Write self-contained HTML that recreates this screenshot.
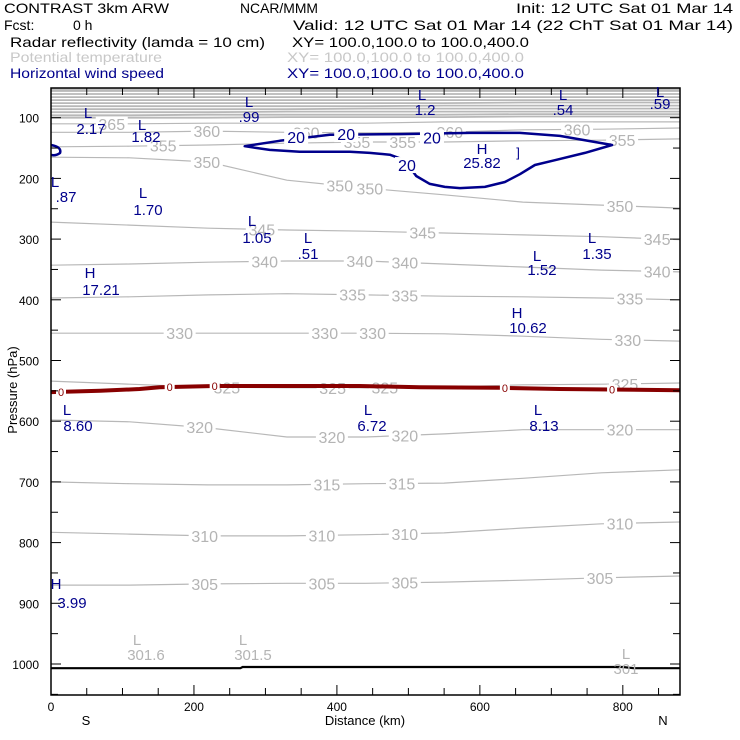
<!DOCTYPE html>
<html><head><meta charset="utf-8"><style>
html,body{margin:0;padding:0;background:#fff;}
svg{display:block;font-family:"Liberation Sans",sans-serif;}
</style></head><body>
<svg id="chart" width="740" height="740" viewBox="0 0 740 740" xmlns="http://www.w3.org/2000/svg">
<g font-size="14">
<text x="4" y="13" textLength="165" lengthAdjust="spacingAndGlyphs">CONTRAST  3km ARW</text>
<text x="240" y="13" textLength="78" lengthAdjust="spacingAndGlyphs">NCAR/MMM</text>
<text x="516" y="13" textLength="217" lengthAdjust="spacingAndGlyphs">Init: 12 UTC Sat 01 Mar 14</text>
<text x="4" y="30">Fcst:</text>
<text x="73" y="30">0 h</text>
<text x="293" y="30" textLength="440" lengthAdjust="spacingAndGlyphs">Valid: 12 UTC Sat 01 Mar 14 (22 ChT Sat 01 Mar 14)</text>
<text x="10" y="47" textLength="255" lengthAdjust="spacingAndGlyphs">Radar reflectivity (lamda = 10 cm)</text>
<text x="292" y="47" textLength="237" lengthAdjust="spacingAndGlyphs">XY= 100.0,100.0 to 100.0,400.0</text>
<text x="10" y="62" fill="#c8c8c8" textLength="152" lengthAdjust="spacingAndGlyphs">Potential temperature</text>
<text x="287" y="62" fill="#c8c8c8" textLength="237" lengthAdjust="spacingAndGlyphs">XY= 100.0,100.0 to 100.0,400.0</text>
<text x="10" y="78" fill="#00008c" textLength="154" lengthAdjust="spacingAndGlyphs">Horizontal wind speed</text>
<text x="287" y="78" fill="#00008c" textLength="237" lengthAdjust="spacingAndGlyphs">XY= 100.0,100.0 to 100.0,400.0</text>
</g>
<defs><clipPath id="plotclip"><rect x="51" y="88" width="629" height="607"/></clipPath></defs>
<g id="plot" clip-path="url(#plotclip)"></g>
<g id="overlay"></g>
<g id="axes"></g>
</svg>
<script>
// ---- data ----
const distKm = [0,110,220,330,440,550,660,770,880];
const thetaLevels = [305,310,315,320,325,330,335,340,345,350,355,360,365,370,375,380,385,390,395,400,405,410,415];
const thetaP = [
 [870,870,868,867,867,865,862,858,855],
 [783,786,789,789,787,784,776,769,766],
 [700,703,705,705,703,702,694,685,680],
 [598,601,611,626,626,621,614,614,614],
 [534,539,544,545,545,544,540,539,537],
 [455,455,455,455,455,456,460,465,468],
 [397,395,392,390,392,394,395,397,400],
 [343,341,338,336,336,341,346,351,354],
 [272,277,282,285,287,290,293,296,301],
 [165,166,173,203,216,227,239,244,249],
 [148,147,145,142,140,140,138,137,135],
 [124,124,122,124,125,124,120,119,117],
 [110,110,109,109,109,107,107,107,107],
 [100,100,100,99,99,99,98,98,98],
 [96,96,95,95,95,95,94,94,94],
 [91,91,91,90,90,90,90,90,90],
 [86,86,86,86,85,85,85,85,85],
 [81,81,81,81,81,80,80,80,80],
 [76,76,76,76,76,76,75,75,75],
 [71,71,71,71,71,71,71,71,71],
 [66,66,66,66,66,66,66,66,66],
 [61,61,61,61,61,61,61,61,61],
 [56,56,56,56,56,56,56,56,56]
];
const thetaLabelLevels = [365,360,360,360,360,355,355,355,355,350,350,350,350,345,345,345,340,340,340,340,335,335,335,330,330,330,330,325,325,325,325,320,320,320,320,315,315,310,310,310,310,305,305,305,305];
const thetaLabelKm =     [85,218,357,558,736,157,428,492,799,218,404,446,796,295,520,848,299,432,495,848,422,495,810,180,383,450,807,246,394,467,803,208,393,495,796,386,491,215,379,495,796,215,379,495,768];
const windKm = [271,320,390,488,586,656,712,785,747,705,677,656,635,607,572,551,530,511,495,474,446,418,348,306];
const windP  = [147,138,128,127,125,125,130,145,158,170,178,193,206,214,216,214,209,196,170,161,158,156,156,153];
const windLabelKm = [343,413,533,498];
const windLabelP = [132,127,133,178];
const reflKm = [0,69,124,152,229,432,516,628,712,880];
const reflP  = [552,550,547,544,542,542,544,545,547,549];
const reflLabelKm = [14,166,229,635,785];
const surfKm = [0,265,268,800,815,880];
const surfP = [1007,1007,1005,1005,1007,1007];
const xTicks = [0,200,400,600,800];
const yTicks = [100,200,300,400,500,600,700,800,900,1000];

// ---- scales ----
const X = km => 51 + km * 629/880;
const Y = p => 57 + p * 0.607;
const NS = "http://www.w3.org/2000/svg";
function mk(tag, parent, attrs){const e=document.createElementNS(NS,tag);for(const k in attrs)e.setAttribute(k,attrs[k]);parent.appendChild(e);return e;}
function interp(xs, ys, x){for(let i=0;i<xs.length-1;i++){if(x>=xs[i]&&x<=xs[i+1]){const t=(x-xs[i])/(xs[i+1]-xs[i]);return ys[i]+t*(ys[i+1]-ys[i]);}}return ys[ys.length-1];}
const plot = document.getElementById('plot');
const axes = document.getElementById('axes');

const band = mk('rect', plot, {x:51,y:88,width:629,height:Y(56)-88,fill:'#c0c0c0'});



thetaLevels.forEach((lv,i)=>{
  const d = distKm.map((k,j)=>(j?'L':'M')+X(k).toFixed(1)+' '+Y(thetaP[i][j]).toFixed(1)).join(' ');
  const pth = mk('path', plot, {d:d, fill:'none', stroke:'#b8b8b8','stroke-width':lv>=370?1.8:1.2});
  
  
});
thetaLabelLevels.forEach((lv,i)=>{
  const li = thetaLevels.indexOf(lv);
  const km = thetaLabelKm[i];
  const y = Y(interp(distKm, thetaP[li], km));
  const x = X(km);
  const r = mk('rect', plot, {x:x-16,y:y-7,width:32,height:14,fill:'#fff'});
  
  
  const t = mk('text', plot, {x:x,y:y+6,'text-anchor':'middle','font-size':16,fill:'#b4b4b4'});
  t.textContent = lv;
  
  
});

const rd = reflKm.map((k,j)=>(j?'L':'M')+X(k).toFixed(1)+' '+Y(reflP[j]).toFixed(1)).join(' ');
const rp = mk('path', plot, {d:rd, fill:'none', stroke:'#880000','stroke-width':4});


reflLabelKm.forEach(km=>{
  const x=X(km), y=Y(interp(reflKm,reflP,km));
  const r = mk('rect', plot, {x:x-5,y:y-5,width:10,height:10,fill:'#fff'});
  
  
  const t = mk('text', plot, {x:x,y:y+4,'text-anchor':'middle','font-size':11,fill:'#880000'});
  t.textContent='0';
  
  
});

const sd = surfKm.map((k,j)=>(j?'L':'M')+X(k).toFixed(1)+' '+Y(surfP[j]).toFixed(1)).join(' ');
const sp = mk('path', plot, {d:sd, fill:'none', stroke:'#000','stroke-width':2.2});



const wd = windKm.map((k,j)=>(j?'L':'M')+X(k).toFixed(1)+' '+Y(windP[j]).toFixed(1)).join(' ')+' Z';
const wp = mk('path', plot, {d:wd, fill:'none', stroke:'#00008c','stroke-width':2.5,'stroke-linejoin':'round'});


const blob = mk('path', plot, {d:'M51 145 Q62 147 60 153 Q56 156 51 155', fill:'none', stroke:'#00008c','stroke-width':2.5});


windLabelKm.forEach((km,i)=>{
  const x=X(km), y=Y(windLabelP[i]);
  const r = mk('rect', plot, {x:x-12,y:y-8,width:24,height:16,fill:'#fff'});
  
  
  const t = mk('text', plot, {x:x,y:y+6,'text-anchor':'middle','font-size':16,fill:'#00008c'});
  t.textContent='20';
  
  
});

const frame = mk('rect', axes, {x:51,y:88,width:629,height:607,fill:'none',stroke:'#000','stroke-width':1.5});


for(let km=0;km<=880;km+=50){
  const major = km%200===0, len = major?10:7;
  const t1 = mk('line', axes, {x1:X(km),x2:X(km),y1:695,y2:695-len,stroke:'#000'});
  
  
  const t2 = mk('line', axes, {x1:X(km),x2:X(km),y1:88,y2:88+len,stroke:'#000'});
  
  
}
xTicks.forEach(v=>{
  const t = mk('text', axes, {x:X(v),y:711,'text-anchor':'middle','font-size':12});
  t.textContent=v;
  
  
});
for(let p=100;p<=1050;p+=50){
  const major = p%100===0, len = major?10:7;
  const a = mk('line', axes, {x1:51,x2:51+len,y1:Y(p),y2:Y(p),stroke:'#000'});
  
  
  const b = mk('line', axes, {x1:680,x2:680-len,y1:Y(p),y2:Y(p),stroke:'#000'});
  
  
}
yTicks.forEach(v=>{
  const t = mk('text', axes, {x:39,y:Y(v)+5,'text-anchor':'end','font-size':12});
  t.textContent=v;
  
  
});
</script>
<svg style="position:absolute;left:0;top:0" width="740" height="740" font-family="Liberation Sans, sans-serif">
<text x="365" y="725" text-anchor="middle" font-size="13">Distance (km)</text>
<text x="86" y="725" text-anchor="middle" font-size="13">S</text>
<text x="663" y="725" text-anchor="middle" font-size="13">N</text>
<text transform="translate(17,390) rotate(-90)" text-anchor="middle" font-size="13">Pressure (hPa)</text>
<g fill="#00008c" font-size="15" text-anchor="middle">
<text x="88" y="118">L</text><text x="91" y="134">2.17</text>
<text x="142" y="130">L</text><text x="146" y="142">1.82</text>
<text x="249" y="107">L</text><text x="249" y="122">.99</text>
<text x="422" y="100">L</text><text x="425" y="115">1.2</text>
<text x="563" y="100">L</text><text x="563" y="115">.54</text>
<text x="660" y="97">L</text><text x="660" y="109">.59</text>
<text x="482" y="154">H</text><text x="482" y="168">25.82</text>
<text x="518" y="157" font-size="13">]</text>
<text x="55" y="187">L</text><text x="66" y="202">.87</text>
<text x="143" y="198">L</text><text x="148" y="215">1.70</text>
<text x="252" y="226">L</text><text x="257" y="243">1.05</text>
<text x="308" y="243">L</text><text x="308" y="259">.51</text>
<text x="537" y="261">L</text><text x="542" y="275">1.52</text>
<text x="592" y="243">L</text><text x="597" y="259">1.35</text>
<text x="90" y="278">H</text><text x="101" y="295">17.21</text>
<text x="517" y="318">H</text><text x="528" y="333">10.62</text>
<text x="67" y="415">L</text><text x="78" y="431">8.60</text>
<text x="368" y="415">L</text><text x="372" y="431">6.72</text>
<text x="538" y="415">L</text><text x="544" y="431">8.13</text>
<text x="56" y="589">H</text><text x="72" y="608">3.99</text>
</g>
<g fill="#b4b4b4" font-size="15" text-anchor="middle">
<text x="137" y="645">L</text><text x="146" y="660">301.6</text>
<text x="243" y="645">L</text><text x="253" y="660">301.5</text>
<text x="626" y="659">L</text><text x="626" y="674">301</text>
</g>
</svg>
</body></html>
